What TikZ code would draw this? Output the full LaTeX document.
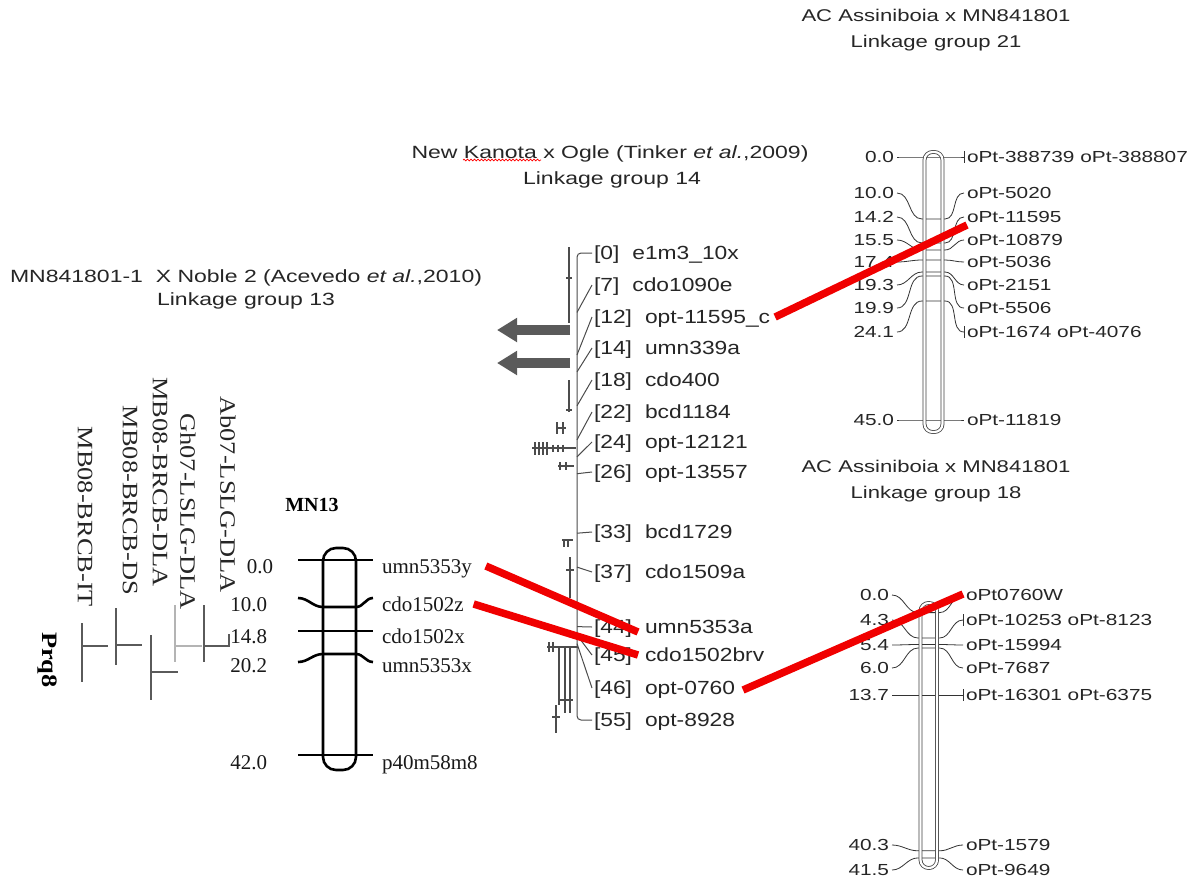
\documentclass[tikz,border=0pt]{standalone}
\usepackage{fontspec}
\setmainfont{Liberation Serif}
\newfontfamily\sansT[FakeStretch=1.3]{Liberation Sans}
\newfontfamily\sansM[FakeStretch=1.2]{Liberation Sans}
\newfontfamily\serifS[FakeStretch=1.2]{Liberation Serif}
\usetikzlibrary{arrows.meta,decorations.pathmorphing}
\definecolor{qgray}{HTML}{5A5A5A}
\definecolor{lgray}{HTML}{B4B4B4}
\definecolor{redl}{HTML}{F00000}
\begin{document}
\begin{tikzpicture}[x=1pt,y=-1pt,
  every node/.style={inner sep=0pt, outer sep=0pt},
  titleA/.style={font=\sansT\fontsize{17}{20}\selectfont, text=black!85, text height=12.2pt, text depth=0pt},
  titleB/.style={font=\sansT\fontsize{17.7}{20}\selectfont, text=black!85, text height=12.7pt, text depth=0pt},
  mlab/.style={font=\sansM\fontsize{19}{22}\selectfont, text=black!85, text height=13.7pt, text depth=0pt},
  rlab/.style={font=\sansT\fontsize{16}{19}\selectfont, text=black!85, text height=11.5pt, text depth=0pt},
  slab/.style={font=\fontsize{21}{24}\selectfont, text=black!90, text height=14.2pt, text depth=0pt},
  vlab/.style={font=\serifS\fontsize{22}{24}\selectfont, text=black!85, rotate=-90, anchor=east},
  mnchrom/.style={line width=2.6pt, rounded corners=13pt},
  mnmark/.style={line width=2.6pt},
  rchrom/.style={draw=black!75, double=white, line width=0.8pt, double distance=2.2pt, rounded corners=8pt},
  cline/.style={line width=0.8pt, draw=black!80},
  mline/.style={line width=1pt, draw=black!70},
  qbar/.style={line width=2pt, draw=qgray},
  qtl/.style={line width=1.1pt, draw=black!70},
  qarrow/.style={line width=10pt, draw=qgray, -{Triangle[length=20pt,width=23pt]}},
  redlink/.style={line width=7.5pt, draw=redl},
]
\useasboundingbox (0,0) rectangle (1201,881);
\fill[white] (0,0) rectangle (1201,881);

% ---------- titles ----------
\node[titleA] (t1a) at (936,15) {AC Assiniboia x MN841801};
\node[titleA] (t1b) at (936,41) {Linkage group 21};
\node[titleB] (t2a) at (610,152) {New Kanota x Ogle (Tinker {\itshape et al.},2009)};
\node[titleB] (t2b) at (612,178) {Linkage group 14};
\node[titleB] (t3a) at (246,276) {MN841801-1\ \ X Noble 2 (Acevedo {\itshape et al.},2010)};
\node[titleB] (t3b) at (246,299) {Linkage group 13};
\node[titleA] (t4a) at (936,466) {AC Assiniboia x MN841801};
\node[titleA] (t4b) at (936,492) {Linkage group 18};
\draw[red, line width=0.7pt, decorate, decoration={snake, amplitude=0.9pt, segment length=3.5pt}] (463,160) -- (541,160);

% ---------- QTL bars left ----------
\node[vlab] (qIT) at (85,607) {MB08-BRCB-IT};
\node[vlab] (qDS) at (130,595) {MB08-BRCB-DS};
\node[vlab] (qDLA) at (160,587) {MB08-BRCB-DLA};
\node[vlab] (qGh) at (188,610) {Gh07-LSLG-DLA};
\node[vlab] (qAb) at (228,593) {Ab07-LSLG-DLA};
\node[font=\serifS\bfseries\fontsize{22}{24}\selectfont, rotate=-90] (prq) at (47,660) {Prq8};
\draw[qbar] (82,623) -- (82,682) (82,646) -- (108,646);
\draw[qbar] (116,608) -- (116,665) (116,645) -- (142,645);
\draw[qbar] (151,635) -- (151,700) (151,672) -- (178,672);
\draw[qbar, draw=lgray] (175,605) -- (175,662) (175,646) -- (202,646);
\draw[qbar] (204,605) -- (204,662) (204,646) -- (229,646) -- (229,634);

% ---------- MN13 ----------
\node[font=\bfseries\fontsize{20}{24}\selectfont] (mn13) at (312,505) {MN13};
\draw[mnchrom] (323,548) rectangle (356,770);
\draw[mnmark] (298,560) -- (373,560);
\draw[mnmark] (298,598) to[out=0,in=180] (323,607) -- (356,607) to[out=0,in=180] (373,598);
\draw[mnmark] (298,631) -- (373,631);
\draw[mnmark] (298,662) to[out=0,in=180] (323,654) -- (356,654) to[out=0,in=180] (373,662);
\draw[mnmark] (298,755) -- (373,755);
\node[slab, anchor=east] (mnL0) at (273,566) {0.0};
\node[slab, anchor=west] (mnR0) at (382,566) {umn5353y};
\foreach \i/\lv/\nm/\ly in {1/10.0/cdo1502z/604, 2/14.8/cdo1502x/636, 3/20.2/umn5353x/665, 4/42.0/p40m58m8/762} {
  \node[slab, anchor=east] (mnL\i) at (267,\ly) {\lv};
  \node[slab, anchor=west] (mnR\i) at (382,\ly) {\nm};
}

% ---------- middle linkage group ----------
\foreach \k/\nm/\ly/\py in {0/e1m3\_10x/253/253, 7/cdo1090e/285/312.4, 12/opt-11595\_c/317/354.9,
  14/umn339a/348/371.9, 18/cdo400/380/405.8, 22/bcd1184/412/439.8, 24/opt-12121/442/456.8,
  26/opt-13557/472/473.7, 33/bcd1729/532/533.2, 37/cdo1509a/572/567.1, 44/umn5353a/627/626.6,
  45/cdo1502brv/655/635.1, 46/opt-0760/688/643.6, 55/opt-8928/720/720} {
  \node[mlab, anchor=west] (b\k) at (594,\ly) {[\k]};
  \node[mlab, anchor=west] (n\k) at ([xshift=13pt]b\k.east) {\nm};
  \coordinate (p\k) at (577,\py);
}
\draw[mline, rounded corners=4pt] ([xshift=-2pt]b0.west) -| (p55) -- ([xshift=-2pt]b55.west);
\foreach \k in {7,12,14,18,22,24,26,33,37,44,45,46}
  \draw[mline] (p\k) -- ([xshift=-2pt]b\k.west);

% QTL marks beside the middle group
\draw[qtl] (569,247) -- (569,323) (566,278) -- (572,278);
\draw[qtl] (569,380) -- (569,412) (566,410) -- (572,410);
\draw[qtl] (557,422) -- (557,434) (563,422) -- (563,434) (557,428) -- (566,428);
\draw[qtl] (532,448) -- (576,448);
\foreach \xx in {535,539,543,547} \draw[qtl] (\xx,442) -- (\xx,455);
\foreach \xx in {553,558,563} \draw[qtl] (\xx,444.5) -- (\xx,451.5);
\draw[qtl] (558,466) -- (574,466) (560,462) -- (560,470) (566,462) -- (566,470);
\draw[qtl] (562,540) -- (573,540) (564,540) -- (564,547) (568,540) -- (568,547);
\draw[qtl] (570,557) -- (570,598) (566,570) -- (574,570);
\draw[qtl] (547,647) -- (578,647) (549,642) -- (549,652) (553,642) -- (553,652);
\draw[qtl] (559,647) -- (559,705) (565,648) -- (565,713) (570,648) -- (570,713);
\draw[qtl] (560,700) -- (573,700);
\draw[qtl] (556,705) -- (556,733) (552,717) -- (560,717);

% grey arrows
\coordinate (a1s) at (570,330); \coordinate (a1e) at (497,330);
\coordinate (a2s) at (570,363); \coordinate (a2e) at (497,363);
\draw[qarrow] (a1s) -- (a1e);
\draw[qarrow] (a2s) -- (a2e);

% ---------- right top: linkage group 21 ----------
\foreach \i/\lv/\nm/\ly/\py in {0/0.0/oPt-388739 oPt-388807/157/157, 1/10.0/oPt-5020/193/219,
  2/14.2/oPt-11595/217/243, 3/15.5/oPt-10879/240/250, 4/17.4/oPt-5036/262/260,
  5/19.3/oPt-2151/285/272, 6/19.9/oPt-5506/308/276, 7/24.1/oPt-1674 oPt-4076/332/301,
  8/45.0/oPt-11819/420/420} {
  \node[rlab, anchor=east] (ctL\i) at (894,\ly) {\lv};
  \node[rlab, anchor=west] (ctR\i) at (967,\ly) {\nm};
  \draw[cline] ([xshift=3pt]ctL\i.east) to[out=0,in=180] (922,\py) -- (945,\py)
     to[out=0,in=180] ([xshift=-3pt]ctR\i.west);
}
\draw[cline] ([xshift=-3pt,yshift=6pt]ctR0.west) -- ([xshift=-3pt,yshift=-6pt]ctR0.west);
\draw[cline] ([xshift=-3pt,yshift=6pt]ctR7.west) -- ([xshift=-3pt,yshift=-6pt]ctR7.west);
\draw[rchrom] (924.5,152) rectangle (942.5,432);

% ---------- right bottom: linkage group 18 ----------
\foreach \i/\lv/\nm/\ly/\py in {0/0.0/oPt0760W/595/612.6, 1/4.3/oPt-10253 oPt-8123/620/638,
  2/5.4/oPt-15994/645/644.5, 3/6.0/oPt-7687/668/648, 4/13.7/oPt-16301 oPt-6375/695/695,
  5/40.3/oPt-1579/845/850.8, 6/41.5/oPt-9649/870/857.9} {
  \node[rlab, anchor=east] (cbL\i) at (889,\ly) {\lv};
  \node[rlab, anchor=west] (cbR\i) at (966,\ly) {\nm};
  \draw[cline] ([xshift=3pt]cbL\i.east) to[out=0,in=180] (918,\py) -- (939.5,\py)
     to[out=0,in=180] ([xshift=-3pt]cbR\i.west);
}
\draw[cline] ([xshift=-3pt,yshift=6pt]cbR1.west) -- ([xshift=-3pt,yshift=-6pt]cbR1.west);
\draw[cline] ([xshift=-3pt,yshift=6pt]cbR4.west) -- ([xshift=-3pt,yshift=-6pt]cbR4.west);
\draw[rchrom] (920.5,603) rectangle (937,868);

% ---------- red links ----------
\draw[redlink] ([xshift=14pt]mnR0.east) -- ([xshift=-7pt,yshift=-5pt]n44.west);
\draw[redlink] ([xshift=10pt]mnR1.east) -- ([xshift=-7pt]n45.west);
\draw[redlink] ([xshift=8pt,yshift=-2pt]n46.east) -- ([xshift=-3pt,yshift=1pt]cbR0.west);
\draw[redlink] ([xshift=5pt]n12.east) -- ([yshift=-8pt]ctR2.west);
\end{tikzpicture}
\end{document}
